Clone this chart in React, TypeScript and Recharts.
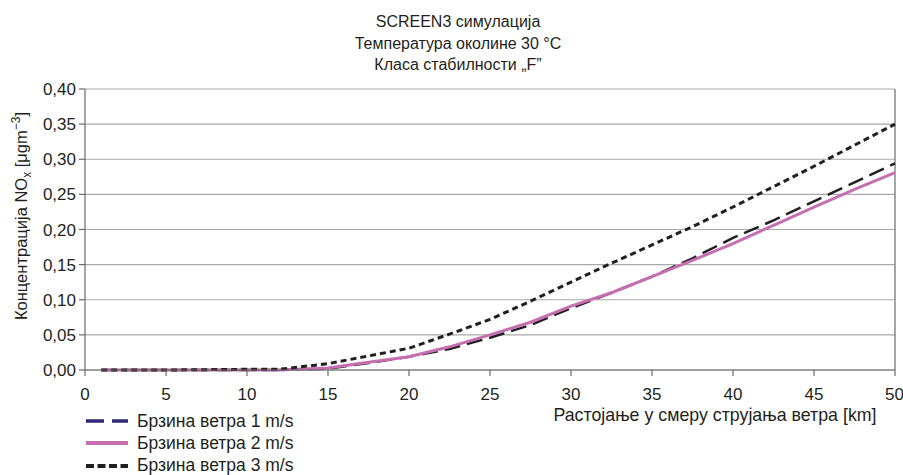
import React from "react";
import {
  CartesianGrid,
  Label,
  Line,
  LineChart,
  ReferenceLine,
  XAxis,
  YAxis,
} from "recharts";

// Distance downwind [km] and NOx concentration for three wind speeds
const distances = [1, 5, 10, 12, 15, 17.5, 20, 22.5, 25, 27.5, 30, 32.5, 35, 37.5, 40, 42.5, 45, 47.5, 50];
const wind1 = [0, 0, 0, 0, 0.002, 0.01, 0.019, 0.03, 0.046, 0.064, 0.088, 0.11, 0.133, 0.159, 0.188, 0.213, 0.24, 0.267, 0.294];
const wind2 = [0, 0, 0, 0, 0.003, 0.011, 0.019, 0.033, 0.05, 0.068, 0.091, 0.11, 0.133, 0.156, 0.18, 0.206, 0.232, 0.257, 0.281];
const wind3 = [0, 0, 0.001, 0.001, 0.009, 0.02, 0.031, 0.051, 0.072, 0.098, 0.125, 0.152, 0.178, 0.204, 0.232, 0.261, 0.29, 0.32, 0.35];

const xTicks = [0, 5, 10, 15, 20, 25, 30, 35, 40, 45, 50];
const yTicks = [0, 0.05, 0.1, 0.15, 0.2, 0.25, 0.3, 0.35, 0.4];

const titleLines = ["SCREEN3 симулација", "Температура околине 30 °C", "Класа стабилности „F”"];

const series = [
  { key: "w1", name: "Брзина ветра 1 m/s", color: "#231f20", legendColor: "#2b2870", dash: "16 7", legendDash: "18 8", width: 2.5 },
  { key: "w2", name: "Брзина ветра 2 m/s", color: "#c56fb0", legendColor: "#c56fb0", dash: undefined, legendDash: undefined, width: 3 },
  { key: "w3", name: "Брзина ветра 3 m/s", color: "#231f20", legendColor: "#231f20", dash: "6 4", legendDash: "8 3.5", width: 3 },
];

const data = distances.map((d, i) => ({ d, w1: wind1[i], w2: wind2[i], w3: wind3[i] }));

const FONT = '"Liberation Sans", Arial, sans-serif';
const TEXT = "#231f20";
const AXIS = "#6b6b6b";
const GRID = "#a9a9a9";

const fmt = (v: number) => v.toFixed(2).replace(".", ",");

function LegendBox() {
  return (
    <div style={{ position: "absolute", left: 86, top: 410, fontFamily: FONT, fontSize: 17.5, color: TEXT }}>
      {series.map((s) => (
        <div key={s.key} style={{ display: "flex", alignItems: "center", height: 22.3 }}>
          <svg width={51} height={10}>
            <line x1={0} y1={5} x2={42} y2={5} stroke={s.legendColor} strokeWidth={s.width + 1} strokeDasharray={s.legendDash} />
          </svg>
          <span>{s.name}</span>
        </div>
      ))}
    </div>
  );
}

export default function App() {
  return (
    <div style={{ position: "absolute", left: 0, top: 0, width: 903, height: 475, background: "#fff" }}>
      <div style={{ position: "absolute", left: 0, top: 11, width: 916, textAlign: "center", fontFamily: FONT, fontSize: 16, lineHeight: "21.5px", color: TEXT }}>
        {titleLines.map((t) => (
          <div key={t}>{t}</div>
        ))}
      </div>
      <LineChart width={903} height={475} data={data} margin={{ top: 89, right: 8, bottom: 75, left: 25 }}>
        <CartesianGrid vertical={false} stroke={GRID} strokeWidth={1.2} />
        <XAxis
          dataKey="d"
          type="number"
          domain={[0, 50]}
          ticks={xTicks}
          height={30}
          stroke={AXIS}
          strokeWidth={1.2}
          tickSize={6}
          tickMargin={12}
          tick={{ fill: TEXT, fontSize: 17, fontFamily: FONT }}
        >
          <Label
            content={() => (
              <text x={715} y={421} textAnchor="middle" fill={TEXT} fontSize={17.8} fontFamily={FONT}>
                Растојање у смеру струјања ветра [km]
              </text>
            )}
          />
        </XAxis>
        <YAxis
          type="number"
          domain={[0, 0.4]}
          ticks={yTicks}
          width={60}
          stroke={AXIS}
          strokeWidth={1.2}
          tickSize={6}
          tickMargin={3}
          tickFormatter={fmt}
          tick={{ fill: TEXT, fontSize: 17, fontFamily: FONT }}
        >
          <Label
            content={() => (
              <text transform="translate(27 216) rotate(-90)" textAnchor="middle" fill={TEXT} fontSize={16.5} fontFamily={FONT}>
                Концентрација NO
                <tspan fontSize={12} dy={4}>x</tspan>
                <tspan dy={-4}> [μgm</tspan>
                <tspan fontSize={12} dy={-7}>−3</tspan>
                <tspan dy={7}>]</tspan>
              </text>
            )}
          />
        </YAxis>
        <ReferenceLine x={50} stroke={AXIS} strokeWidth={1.2} />
        {series.map((s) => (
          <Line
            key={s.key}
            dataKey={s.key}
            name={s.name}
            type="linear"
            stroke={s.color}
            strokeWidth={s.width}
            strokeDasharray={s.dash}
            dot={false}
            activeDot={false}
            isAnimationActive={false}
          />
        ))}
      </LineChart>
      <LegendBox />
    </div>
  );
}
